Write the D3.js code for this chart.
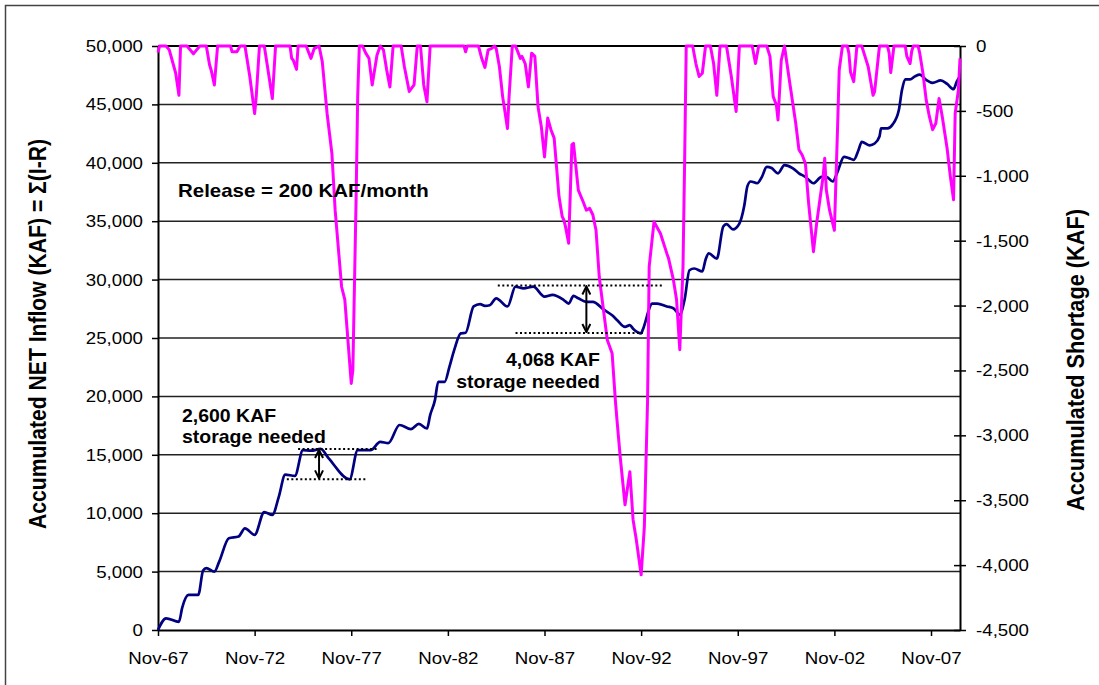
<!DOCTYPE html>
<html><head><meta charset="utf-8">
<script src="https://cdn.jsdelivr.net/npm/d3@7"></script>
<style>
html,body{margin:0;padding:0;background:#fff;}
svg text{font-family:"Liberation Sans",Arial,sans-serif;}
</style></head>
<body>
<svg id="chart" width="1099" height="685"></svg>
<script>
// ---- data (month index counted from Nov-1967) ----
const xTickMonths = [0, 60, 120, 180, 240, 300, 360, 420, 480];
const xTickLabels = ["Nov-67","Nov-72","Nov-77","Nov-82","Nov-87","Nov-92","Nov-97","Nov-02","Nov-07"];
const leftTicks = [0,5000,10000,15000,20000,25000,30000,35000,40000,45000,50000];
const leftTickLabels = ["0","5,000","10,000","15,000","20,000","25,000","30,000","35,000","40,000","45,000","50,000"];
const rightTicks = [0,-500,-1000,-1500,-2000,-2500,-3000,-3500,-4000,-4500];
const rightTickLabels = ["0","-500","-1,000","-1,500","-2,000","-2,500","-3,000","-3,500","-4,000","-4,500"];

// accumulated net inflow (KAF), left axis
const inflowMonths = [0,5,13,15,19,25,28,30,35,38,44,50,54,60,66,71,75,79,85,90,95,101,106,119,124,132,138,143,150,157,162,167,169,172,174,178,181,184,188,191,196,200,203,206,210,217,222,227,233,240,245,252,255,258,261,266,270,277,282,285,290,293,295,300,301,307,310,316,320,324,327,330,333,338,340,342,347,351,353,357,361,364,366,368,372,375,378,381,385,389,394,398,402,407,412,415,419,422,426,429,432,435,437,442,445,448,449,453,456,460,462,464,467,470,473,477,481,486,490,494,496,498];
const inflowValues = [0,1000,700,1900,3000,3000,5100,5300,5000,5850,7850,8000,8700,8150,10100,9850,11400,13300,13200,15400,15350,15500,14700,12900,15400,15400,16100,16000,17550,17200,17650,17250,18400,19700,21250,21250,22550,24000,25400,25450,27700,27900,27750,27800,28400,27700,29400,29250,29400,28550,28700,28250,27950,28600,28400,28100,28100,27400,26950,26550,25950,26100,25800,25400,25700,27950,27950,27700,27550,27000,28300,30800,30950,30700,31700,32250,31800,34550,34750,34300,34800,36300,38000,38400,38250,38800,39650,39550,39100,39800,39550,39100,38800,38250,38800,38800,38400,39250,40500,40400,40250,41100,41800,41500,41650,42250,42950,42950,43250,44500,46250,47150,47150,47400,47550,47100,46850,47050,46750,46300,46950,47400];

// accumulated shortage (KAF), right axis
const shortageMonths = [0,1,5,7,11,13,14,18,22,24,26,30,32,33,35,37,45,46,49,51,54,57,60,61,63,66,68,71,73,82,83,84,86,87,92,95,97,100,102,105,108,110,114,116,120,121,123,124,125,127,129,131,133,136,138,140,142,144,146,151,153,156,159,161,163,165,167,169,190,191,192,199,201,203,205,207,209,210,212,214,215,217,218,220,222,225,226,228,230,232,234,236,238,240,242,244,246,249,251,252,253,255,257,258,261,264,266,268,270,272,274,279,282,284,285,287,290,293,295,297,300,302,304,305,308,312,316,317,320,322,324,326,327,328,332,334,336,338,340,343,345,347,349,353,356,359,361,369,371,373,378,380,382,384,385,387,389,392,396,398,400,402,404,407,409,411,413,414,415,417,420,422,423,425,428,429,430,432,434,437,439,441,444,445,448,453,454,455,457,464,465,467,468,469,472,473,475,477,479,481,483,485,487,490,492,494,495,497,498];
const shortageValues = [-50,0,0,-30,-210,-380,0,0,-60,-30,0,0,-145,-185,-300,0,0,-45,-45,0,0,-235,-520,-390,0,0,-160,-405,0,0,-95,-110,-180,0,0,-95,-20,0,-120,-520,-830,-1265,-1855,-1955,-2600,-2495,-1185,-390,0,0,-55,-95,-300,-70,0,-30,-185,-315,0,0,-160,-350,-300,0,0,-300,-430,0,0,-45,0,0,-95,-165,-30,-20,0,-20,-160,-390,-470,-635,-390,0,0,-95,-80,-135,-315,-55,-80,-470,-620,-855,-555,-645,-710,-1160,-1315,-1340,-1390,-1520,-760,-750,-1110,-1200,-1265,-1250,-1300,-1420,-1780,-2265,-2370,-2730,-2880,-3165,-3535,-3280,-3650,-3805,-4075,-3705,-2730,-1700,-1355,-1445,-1600,-1635,-1800,-1955,-2340,-1700,-900,0,0,-135,-235,-210,0,0,-135,-380,0,0,-235,-505,0,0,-135,0,0,-80,-390,-455,-570,-110,0,-260,-595,-800,-840,-905,-1210,-1585,-1365,-1185,-1005,-865,-1110,-1265,-1420,-620,-185,0,0,-55,-200,-275,0,0,-80,-160,-380,-350,0,0,-55,-205,0,0,-80,-135,-40,0,0,-55,-210,-415,-545,-645,-595,-405,-545,-790,-1005,-1185,-520,-340,-95];

// storage annotations: [startMonth, endMonth, value] for dotted lines
const storageLines = [[87,137,15500],[80,129,12900],[211,313,29500],[222,301,25430]];
const storageArrows = [[100,15500,12900],[266,29500,25430]];
const storageLabels = [["2,600 KAF","storage needed"],["4,068 KAF","storage needed"]];

// ---- drawing ----
const svg = d3.select("#chart");
const L = 158, R = 960, T = 46, B = 630;
const SX = 1.1; // horizontal stretch of the source picture's lettering
const x = d3.scaleLinear().domain([0, 498]).range([L, R]);
const yL = d3.scaleLinear().domain([0, 50000]).range([B, T]);
const yR = d3.scaleLinear().domain([-4500, 0]).range([B, T]);

function stretch(sel){
  sel.each(function(){
    const w = this.getComputedTextLength();
    d3.select(this).attr("textLength", w*SX).attr("lengthAdjust","spacingAndGlyphs");
  });
}

// outer border
svg.append("rect").attr("x",5.5).attr("y",5.5).attr("width",1100).attr("height",700)
  .attr("fill","none").attr("stroke","#444").attr("stroke-width",1.5);

// gridlines
svg.append("g").selectAll("line").data(leftTicks.filter(d=>d>0)).join("line")
  .attr("x1",L).attr("x2",R).attr("y1",d=>yL(d)).attr("y2",d=>yL(d))
  .attr("stroke","#222").attr("stroke-width",1.5);

// left axis
const gl = svg.append("g").attr("transform",`translate(${L},0)`)
  .call(d3.axisLeft(yL).tickValues(leftTicks).tickFormat((d,i)=>leftTickLabels[i]).tickSize(6).tickSizeOuter(0).tickPadding(9));
// right axis
const gr = svg.append("g").attr("transform",`translate(${R},0)`)
  .call(d3.axisRight(yR).tickValues(rightTicks).tickFormat((d,i)=>rightTickLabels[i]).tickSize(6).tickSizeOuter(0).tickPadding(10));
gr.selectAll(".tick line").attr("x1",-6);
// bottom axis
const gb = svg.append("g").attr("transform",`translate(0,${B})`)
  .call(d3.axisBottom(x).tickValues(xTickMonths).tickFormat((d,i)=>xTickLabels[i]).tickSize(6).tickSizeOuter(0).tickPadding(16));
[gl,gr,gb].forEach(g=>{
  g.select(".domain").attr("stroke","#000").attr("stroke-width",2);
  g.selectAll(".tick line").attr("stroke","#000").attr("stroke-width",1.5);
  g.selectAll("text").attr("font-size",17).attr("fill","#000").attr("font-family","Liberation Sans, Arial, sans-serif").call(stretch);
});
// top border line of plot
svg.append("line").attr("x1",L).attr("x2",R).attr("y1",T).attr("y2",T).attr("stroke","#000").attr("stroke-width",2);

// lines
const inflow = inflowMonths.map((m,i)=>[m,inflowValues[i]]);
const shortage = shortageMonths.map((m,i)=>[m,shortageValues[i]]);
svg.append("path").datum(inflow)
  .attr("d", d3.line().x(d=>x(d[0])).y(d=>yL(d[1])).curve(d3.curveMonotoneX))
  .attr("fill","none").attr("stroke","#000080").attr("stroke-width",2.7).attr("stroke-linejoin","round");
svg.append("path").datum(shortage)
  .attr("d", d3.line().x(d=>x(d[0])).y(d=>yR(d[1])))
  .attr("fill","none").attr("stroke","#FF00FF").attr("stroke-width",3).attr("stroke-linejoin","round");

// annotations
svg.append("g").selectAll("line").data(storageLines).join("line")
  .attr("x1",d=>x(d[0])).attr("x2",d=>x(d[1])).attr("y1",d=>yL(d[2])).attr("y2",d=>yL(d[2]))
  .attr("stroke","#000").attr("stroke-width",2).attr("stroke-dasharray","2,2.5");
const defs = svg.append("defs");
defs.append("marker").attr("id","ah").attr("viewBox","0 0 10 10").attr("refX",9).attr("refY",5)
  .attr("markerWidth",10).attr("markerHeight",10).attr("markerUnits","userSpaceOnUse").attr("orient","auto-start-reverse")
  .append("path").attr("d","M1,1 L9,5 L1,9").attr("fill","none").attr("stroke","#000").attr("stroke-width",2);
svg.append("g").selectAll("line").data(storageArrows).join("line")
  .attr("x1",d=>x(d[0])).attr("x2",d=>x(d[0])).attr("y1",d=>yL(d[1])+1).attr("y2",d=>yL(d[2])-1)
  .attr("stroke","#000").attr("stroke-width",2)
  .attr("marker-start","url(#ah)").attr("marker-end","url(#ah)");

const ann = svg.append("g").attr("font-weight","bold").attr("font-size",17.7).attr("fill","#000");
ann.append("text").attr("x",182).attr("y",422).text(storageLabels[0][0]);
ann.append("text").attr("x",182).attr("y",443).text(storageLabels[0][1]);
ann.append("text").attr("x",600).attr("y",366).attr("text-anchor","end").text(storageLabels[1][0]);
ann.append("text").attr("x",600).attr("y",388).attr("text-anchor","end").text(storageLabels[1][1]);
ann.append("text").attr("x",178).attr("y",197).attr("font-size",18.6).text("Release = 200 KAF/month");
ann.selectAll("text").call(stretch);

// axis titles (rotated; thickness stretched horizontally like the source)
svg.append("text").attr("transform","translate(46,334) rotate(-90) scale(1,1.1)").attr("text-anchor","middle")
  .attr("font-weight","bold").attr("font-size",21)
  .attr("textLength",390).attr("lengthAdjust","spacingAndGlyphs")
  .text("Accumulated NET Inflow (KAF) = Σ(I-R)");
svg.append("text").attr("transform","translate(1084,360) rotate(-90) scale(1,1.1)").attr("text-anchor","middle")
  .attr("font-weight","bold").attr("font-size",21)
  .attr("textLength",302).attr("lengthAdjust","spacingAndGlyphs")
  .text("Accumulated Shortage (KAF)");
</script>
</body></html>
